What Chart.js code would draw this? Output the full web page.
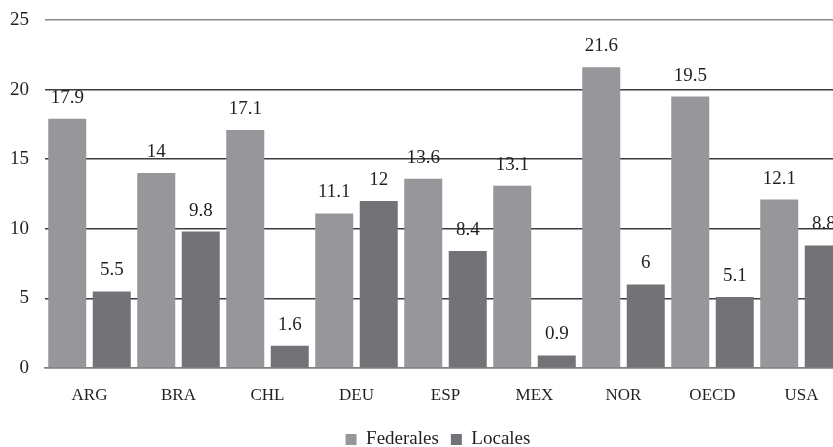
<!DOCTYPE html>
<html>
<head>
<meta charset="utf-8">
<script src="https://cdn.jsdelivr.net/npm/chart.js@4.4.1/dist/chart.umd.min.js"></script>
<style>
  html, body { margin: 0; padding: 0; background: #ffffff; overflow: hidden; }
  #wrap { width: 876px; height: 447px; }
</style>
</head>
<body>
<div id="wrap"><canvas id="c" width="876" height="447"></canvas></div>
<script>
// Country codes along the category axis
const categories = ['ARG', 'BRA', 'CHL', 'DEU', 'ESP', 'MEX', 'NOR', 'OECD', 'USA'];
// Values per level of government
const federales = [17.9, 14, 17.1, 11.1, 13.6, 13.1, 21.6, 19.5, 12.1];
const locales = [5.5, 9.8, 1.6, 12, 8.4, 0.9, 6, 5.1, 8.8];
// Value axis ticks
const yTicks = [0, 5, 10, 15, 20, 25];

const SERIF = "'Liberation Serif', 'Times New Roman', serif";
const TEXT = '#231f20';

// Writes each bar's value above it
const valueLabels = {
  id: 'valueLabels',
  afterDatasetsDraw(chart) {
    const ctx = chart.ctx;
    ctx.save();
    ctx.font = '19px ' + SERIF;
    ctx.fillStyle = TEXT;
    ctx.textAlign = 'center';
    ctx.textBaseline = 'middle';
    chart.data.datasets.forEach((ds, di) => {
      chart.getDatasetMeta(di).data.forEach((bar, i) => {
        ctx.fillText(String(ds.data[i]), bar.x, bar.y - 21);
      });
    });
    ctx.restore();
  }
};

new Chart(document.getElementById('c'), {
  type: 'bar',
  data: {
    labels: categories,
    datasets: [
      { label: 'Federales', data: federales, backgroundColor: '#97979b' },
      { label: 'Locales', data: locales, backgroundColor: '#737377' }
    ]
  },
  options: {
    responsive: false,
    animation: false,
    devicePixelRatio: 1,
    categoryPercentage: 1,
    barPercentage: 0.854,
    layout: { padding: { top: 20, right: 0, bottom: -12, left: 0 } },
    plugins: {
      legend: {
        position: 'bottom',
        labels: {
          boxWidth: 11,
          boxHeight: 11,
          padding: 12,
          color: TEXT,
          font: { family: SERIF, size: 19 }
        }
      },
      tooltip: { enabled: false }
    },
    scales: {
      x: {
        afterFit(scale) { scale.height = 50; },
        grid: { display: false, drawTicks: false },
        border: { display: true, color: '#7f7f7f', width: 1.5 },
        ticks: { color: TEXT, padding: 17, font: { family: SERIF, size: 17 } }
      },
      y: {
        min: 0,
        max: 25,
        afterFit(scale) {
          scale.width = 45;
          scale.paddingTop = 0;
          scale.paddingBottom = 0;
        },
        afterBuildTicks(scale) { scale.ticks = yTicks.map(v => ({ value: v })); },
        grid: {
          drawTicks: false,
          lineWidth: 1.5,
          color: (c) => {
            const v = c.tick && c.tick.value;
            if (v === 25 || v === 0) return '#8a8a8a';
            return '#3c3c3c';
          }
        },
        border: { display: false },
        ticks: { color: TEXT, padding: 16, font: { family: SERIF, size: 19 } }
      },
      // empty strip on the right that runs past the visible edge
      edge: {
        type: 'linear',
        position: 'right',
        afterFit(scale) { scale.width = 30; },
        grid: { display: false, drawTicks: false },
        border: { display: false },
        ticks: { display: false }
      }
    }
  },
  plugins: [valueLabels]
});
</script>
</body>
</html>
